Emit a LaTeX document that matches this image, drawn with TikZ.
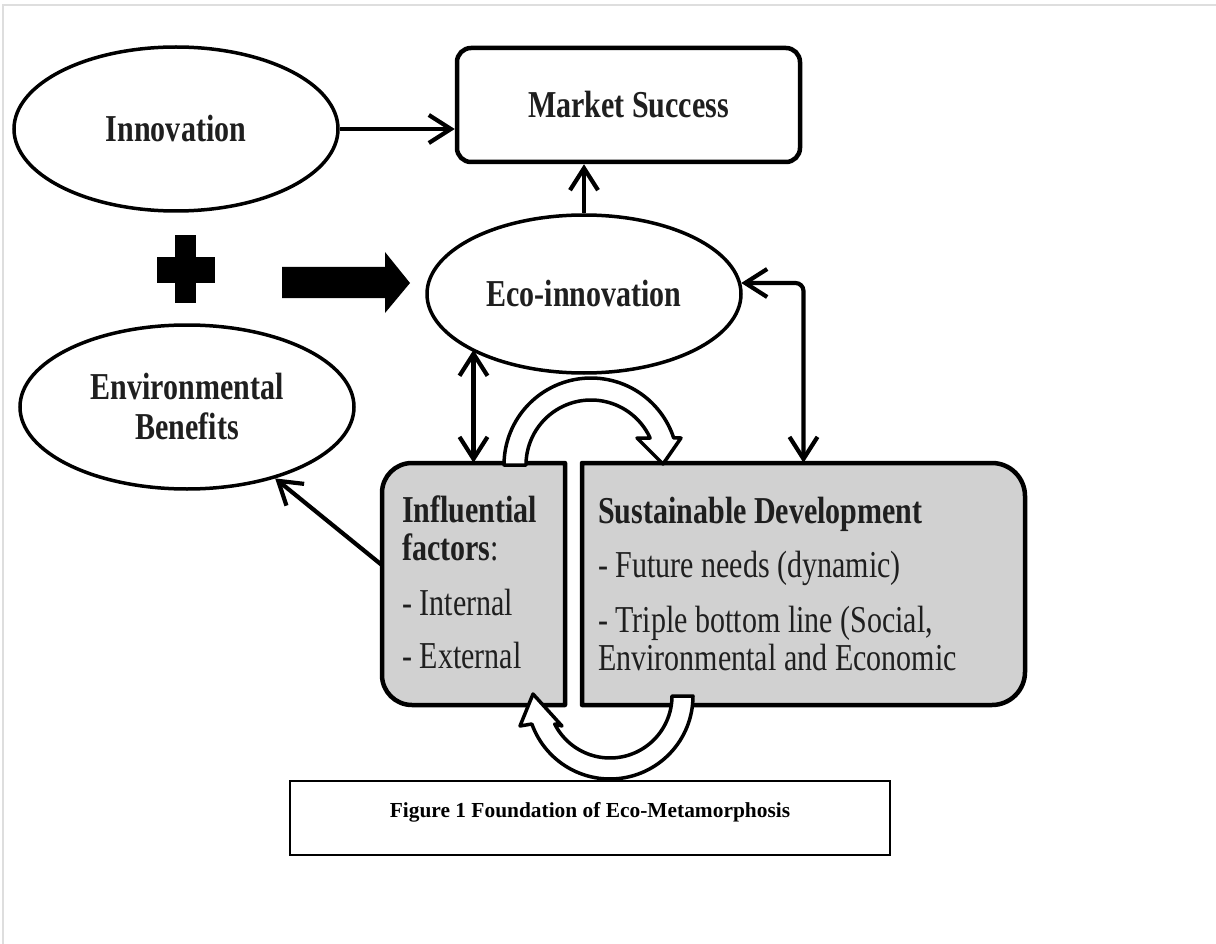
\documentclass[tikz,border=0pt]{standalone}
\usepackage{fontspec}
\setmainfont{Liberation Serif}
\newfontfamily\dgfont{Liberation Serif}[FakeStretch=0.79]
\usetikzlibrary{shapes.geometric,arrows.meta}
\begin{document}
\begin{tikzpicture}[x=1pt,y=-1pt,
  dgtext/.style={font={\dgfont\fontsize{38}{40}\selectfont}, text=black!88},
  dgbold/.style={font={\dgfont\fontsize{38}{40}\selectfont\bfseries}, text=black!88},
  ell/.style={ellipse, draw, line width=3.5pt, fill=white, inner sep=0pt, dgbold},
  msbox/.style={rectangle, draw, line width=4.5pt, rounded corners=14pt, fill=white, inner sep=0pt, dgbold},
  gbox/.style={draw, line width=4.5pt, fill=black!18, line join=round},
  hollow/.style={draw, line width=3.5pt, fill=white, line join=round},
  arr/.style={line width=4.2pt, -{Straight Barb[length=22pt,width=28pt]}},
  dbl/.style={line width=4.2pt, {Straight Barb[length=22pt,width=28pt]}-{Straight Barb[length=22pt,width=28pt]}},
  frameline/.style={draw=black!13, line width=1.5pt},
  capbox/.style={rectangle, draw, line width=2pt, inner sep=0pt},
  captxt/.style={font={\fontsize{21.4}{24}\selectfont\bfseries}},
  btxt/.style={anchor=base west, inner sep=0pt}
]
\useasboundingbox (0,0) rectangle (1216,944);
\draw[frameline] (3,944) -- (3,5) -- (1216,5);

% ellipses and top box
\node[ell, minimum width=324pt, minimum height=164pt] (innov) at (176,129) {Innovation};
\node[msbox, minimum width=343pt, minimum height=114pt] (ms) at (628.5,105) {Market Success};
\node[ell, minimum width=314pt, minimum height=158pt] (eco) at (584,294) {Eco-innovation};
\node[ell, minimum width=334pt, minimum height=164pt, align=center] (env) at (187,407) {Environmental\\Benefits};

% plus sign and block arrow
\fill (175,235) rectangle (196,303);
\fill (157,257) rectangle (215,283);
\fill (282,267) -- (385,267) -- (385,252) -- (410,283) -- (385,313) -- (385,298) -- (282,298) -- cycle;

% grey boxes
\node[inner sep=0pt, minimum width=183pt, minimum height=242pt] (inf) at (473.5,584) {};
\node[inner sep=0pt, minimum width=443pt, minimum height=242pt] (sd) at (803.5,584) {};
\filldraw[gbox] (565,463) -- (412,463) .. controls (395.4,463) and (382,476.4) .. (382,493) -- (382,675) .. controls (382,691.6) and (395.4,705) .. (412,705) -- (565,705) -- cycle;
\filldraw[gbox] (582,463) -- (992,463) .. controls (1010.2,463) and (1025,477.8) .. (1025,496) -- (1025,672) .. controls (1025,690.2) and (1010.2,705) .. (992,705) -- (582,705) -- cycle;

\node[btxt, dgbold] (inf1) at (402,522) {Influential};
\node[btxt, dgtext] (inf2) at (402,560) {\textbf{factors}:};
\node[btxt, dgtext] (inf3) at (402,615) {- Internal};
\node[btxt, dgtext] (inf4) at (402,668) {- External};

\node[btxt, dgbold] (sd1) at (598,523) {Sustainable Development};
\node[btxt, dgtext] (sd2) at (598,577) {- Future needs (dynamic)};
\node[btxt, dgtext] (sd3) at (598,632) {- Triple bottom line (Social,};
\node[btxt, dgtext] (sd4) at (598,670) {Environmental and Economic};

% hollow curved arrows
\filldraw[hollow] plot[domain=180:341.9, samples=60] ({591+87*cos(\x)},{465+87*sin(\x)}) -- (681,438) -- (663,464) -- (637,438) -- plot[domain=335.5:180, samples=60] ({591+65*cos(\x)},{465+65*sin(\x)}) -- cycle;
\filldraw[hollow] plot[domain=0:160.3, samples=60] ({610+83*cos(\x)},{696+83*sin(\x)}) -- (520,726) -- (533,694) -- (562,726) -- plot[domain=153.15:0, samples=60] ({610+62*cos(\x)},{696+62*sin(\x)}) -- cycle;

% connectors
\draw[arr] (innov.east) -- (innov.east -| ms.west);
\draw[arr] (eco.north) -- (eco.north |- ms.south);
\draw[dbl] (inf.north |- eco.206.9) -- (inf.north);
\draw[dbl, rounded corners=8pt] (eco.4) -| (sd.north);
\draw[arr] ([yshift=19pt]inf.west) -- (env.-39);

% caption
\node[capbox, minimum width=600pt, minimum height=74pt] (cap) at (590,818) {};
\node[captxt] (captext) at (590,812) {Figure 1 Foundation of Eco-Metamorphosis};
\end{tikzpicture}
\end{document}
